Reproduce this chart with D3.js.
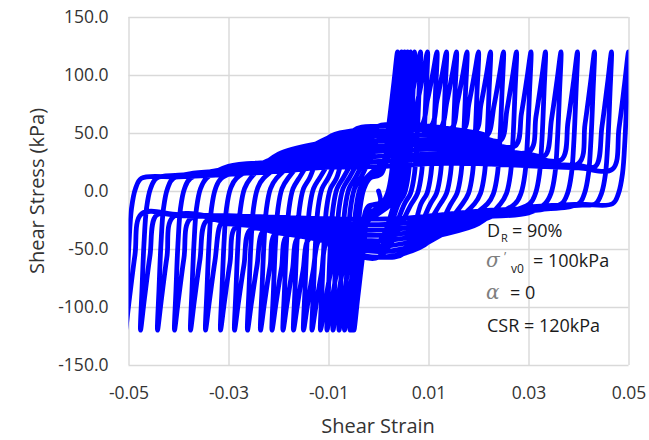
<!DOCTYPE html>
<html>
<head>
<meta charset="utf-8">
<script src="https://cdn.jsdelivr.net/npm/d3@7"></script>
<style>
  body { margin: 0; background: #fff; }
  text { font-family: "Open Sans", sans-serif; }
</style>
</head>
<body>
<div id="chart"></div>
<script>
var width = 649;
var height = 440;

// strain at each -120 / +120 kPa reversal, in the order the test reaches them
// (the test starts at the origin and is loaded to -120 first)
var bottomPeaks = [-0.0049, -0.0053, -0.0057, -0.0068, -0.0079, -0.0091, -0.0103, -0.0116, -0.0133, -0.0150, -0.0170, -0.0191,
                   -0.0213, -0.0236, -0.0262, -0.0288, -0.0316, -0.0346, -0.0376, -0.0408, -0.0442, -0.0476, -0.0506];
var topPeaks = [0.0038, 0.0046, 0.0052, 0.0058, 0.0064, 0.0072, 0.0084, 0.0098, 0.0117, 0.0136, 0.0156, 0.0177,
                0.0200, 0.0224, 0.0250, 0.0276, 0.0305, 0.0334, 0.0365, 0.0398, 0.0432, 0.0466, 0.0500];
var peakStress = 120;
var endStrain = 0.03;   // last unloading branch stops here

// stress along the flat (flow) part of the branches: mid cycles vs first/last cycles
var flowStrain  = [-0.05, -0.04, -0.03, -0.02, -0.01, -0.005, 0, 0.005, 0.01, 0.02, 0.03, 0.04, 0.05];
var loadHigh    = [20, 24, 28, 34, 46, 52, 56, 57, 56, 50, 42, 36, 32];
var loadLow     = [8, 10, 12, 14, 16, 15, 15, 16, 18, 19, 18, 17, 16];
var unloadHigh  = [-24, -27, -31, -36, -44, -54, -57, -54, -44, -30, -24, -19, -15];
var unloadLow   = [-18, -18, -18, -18, -17, -14, -13, -13, -14, -13, -12, -10, -8];
// how close each cycle stays to the low curve (0 = high curve, 1 = low curve)
var mixCycle = [0, 2, 6, 14, 22];
var mixLow   = [1, 0.6, 0, 0, 0.85];

// shape of the steep part right after a reversal
var turnOffset = [0.0003, 0.0007, 0.0012, 0.0020, 0.0032];
var turnStress = [85, 45, 15, -2, -11];
// shape of the steep climb into the next reversal
var approachOffset = [0.0032, 0.0019, 0.0008, 0];
var approachShare = [0, 0.35, 0.72, 1];

var xTicks = [-0.05, -0.03, -0.01, 0.01, 0.03, 0.05];
var yTicks = [-150, -100, -50, 0, 50, 100, 150];

var plotLeft = 128.5, plotRight = 628.5, plotTop = 17, plotBottom = 365;

var xScale = d3.scaleLinear().domain([-0.05, 0.05]).range([plotLeft, plotRight]);
var yScale = d3.scaleLinear().domain([-150, 150]).range([plotBottom, plotTop]);

var loadH = d3.scaleLinear().domain(flowStrain).range(loadHigh);
var loadL = d3.scaleLinear().domain(flowStrain).range(loadLow);
var unloadH = d3.scaleLinear().domain(flowStrain).range(unloadHigh);
var unloadL = d3.scaleLinear().domain(flowStrain).range(unloadLow);
var lowness = d3.scaleLinear().domain(mixCycle).range(mixLow).clamp(true);

function flow(k, g, loading) {
  var h = loading ? loadH(g) : unloadH(g);
  var l = loading ? loadL(g) : unloadL(g);
  return d3.interpolateNumber(h, l)(lowness(k));
}

// one branch from g0 to g1; dir = +1 loading, -1 unloading
function branch(pts, k, g0, g1, dir, fromRest, toPeak) {
  var loading = dir > 0;
  var a = g0;
  if (!fromRest) {
    for (var i = 0; i < turnOffset.length; i++) {
      pts.push([g0 + dir * turnOffset[i], -dir * turnStress[i]]);
    }
    a = g0 + dir * turnOffset[turnOffset.length - 1];
  }
  var b = toPeak ? g1 - dir * approachOffset[0] : g1;
  var grid = flowStrain.filter(function(g) {
    return loading ? (g > a + 0.003 && g < b - 0.001) : (g < a - 0.003 && g > b + 0.001);
  });
  if (!loading) grid.reverse();
  grid.forEach(function(g) { pts.push([g, flow(k, g, loading)]); });
  var s0 = flow(k, b, loading);
  if (!toPeak) {
    pts.push([b, s0]);
    return;
  }
  var target = dir * peakStress;
  for (var j = 0; j < approachOffset.length; j++) {
    pts.push([g1 - dir * approachOffset[j], s0 + (target - s0) * approachShare[j]]);
  }
}

var points = [[0, 0], [0.0003, -10]];
branch(points, 0, 0.0003, bottomPeaks[0], -1, true, true);
for (var k = 0; k < topPeaks.length; k++) {
  branch(points, k, bottomPeaks[k], topPeaks[k], 1, false, true);
  if (k + 1 < bottomPeaks.length) branch(points, k, topPeaks[k], bottomPeaks[k + 1], -1, false, true);
  else branch(points, k, topPeaks[k], endStrain, -1, false, false);
}

var svg = d3.select("#chart")
            .append("svg")
            .attr("width", width)
            .attr("height", height);

svg.append("rect").attr("width", width).attr("height", height).attr("fill", "#fff");

// gridlines + tick labels
var yAxis = d3.axisLeft(yScale)
              .tickValues(yTicks)
              .tickSize(-(plotRight - plotLeft))
              .tickPadding(20)
              .tickFormat(function(d) { return d.toFixed(1); });
var xAxis = d3.axisBottom(xScale)
              .tickValues(xTicks)
              .tickSize(-(plotBottom - plotTop))
              .tickPadding(22)
              .tickFormat(function(d) { return d.toFixed(2); });

var gy = svg.append("g").attr("transform", "translate(" + plotLeft + ",0)").call(yAxis);
var gx = svg.append("g").attr("transform", "translate(0," + plotBottom + ")").call(xAxis);
[gx, gy].forEach(function(g) {
  g.select(".domain").remove();
  g.selectAll("line").attr("stroke", "#d9d9d9").attr("stroke-width", 1.4);
  g.selectAll("text")
   .attr("fill", "#333")
   .style("font-size", "17.5px")
   .style("font-family", "'Open Sans', sans-serif");
});

svg.append("clipPath").attr("id", "plotClip")
   .append("rect")
   .attr("x", plotLeft).attr("y", plotTop)
   .attr("width", plotRight - plotLeft).attr("height", plotBottom - plotTop);

var line = d3.line()
             .x(function(d) { return xScale(d[0]); })
             .y(function(d) { return yScale(d[1]); })
             .curve(d3.curveCatmullRom.alpha(0.5));

svg.append("path")
   .datum(points)
   .attr("clip-path", "url(#plotClip)")
   .attr("fill", "none")
   .attr("stroke", "#0000ff")
   .attr("stroke-width", 4.8)
   .attr("stroke-linejoin", "round")
   .attr("stroke-linecap", "round")
   .attr("d", line);

// axis titles
svg.append("text")
   .attr("x", 378).attr("y", 433)
   .attr("text-anchor", "middle")
   .attr("fill", "#333")
   .style("font-size", "20px")
   .text("Shear Strain");

svg.append("text")
   .attr("transform", "translate(44,191) rotate(-90)")
   .attr("text-anchor", "middle")
   .attr("fill", "#333")
   .style("font-size", "20px")
   .text("Shear Stress (kPa)");

// test conditions
var note = svg.append("g").attr("fill", "#1a1a1a").style("font-size", "18px");

note.append("text").attr("x", 487).attr("y", 237).text("D");
note.append("text").attr("x", 501).attr("y", 242).style("font-size", "11px").text("R");
note.append("text").attr("x", 512).attr("y", 237).text("= 90%");

note.append("text").attr("x", 486).attr("y", 267)
    .attr("fill", "#7f7f7f")
    .style("font-family", "'DejaVu Serif', serif").style("font-style", "italic").style("font-size", "20px")
    .text("\u03c3");
note.append("text").attr("x", 504).attr("y", 261).attr("fill", "#7f7f7f").style("font-size", "13px").text("\u2019");
note.append("text").attr("x", 511).attr("y", 273).style("font-size", "12px").text("v0");
note.append("text").attr("x", 533).attr("y", 267).text("= 100kPa");

note.append("text").attr("x", 486).attr("y", 299)
    .attr("fill", "#7f7f7f")
    .style("font-family", "'DejaVu Serif', serif").style("font-style", "italic").style("font-size", "20px")
    .text("\u03b1");
note.append("text").attr("x", 510).attr("y", 299).text("= 0");

note.append("text").attr("x", 487).attr("y", 332).text("CSR = 120kPa");
</script>
</body>
</html>
